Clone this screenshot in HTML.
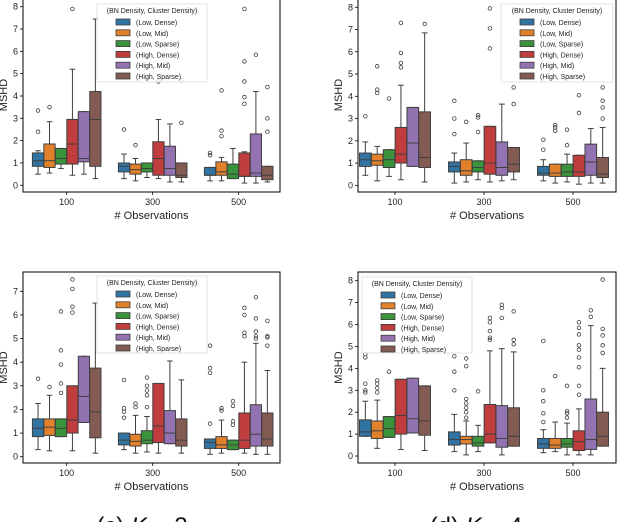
<!DOCTYPE html>
<html><head><meta charset="utf-8"><style>
body{margin:0;background:#fff;}
svg text{font-family:"Liberation Sans",sans-serif;}
</style></head><body>
<svg id="fig" width="618" height="522" xmlns="http://www.w3.org/2000/svg">
<rect width="618" height="522" fill="#fff"/>
</svg>
<script>
const categories=["100","300","500"];
const hues=["(Low, Dense)","(Low, Mid)","(Low, Sparse)","(High, Dense)","(High, Mid)","(High, Sparse)"];
const colors=["#3274a1","#e1812c","#3a923a","#c03d3e","#9372b2","#845b53"];
// each box: [whiskerLow, q1, median, q3, whiskerHigh]
const statsA=[
 [[0.5,0.85,1.1,1.45,1.55],[0.55,0.8,1.1,1.85,2.85],[0.75,0.95,1.2,1.65,1.65],[0.45,0.95,1.85,2.95,5.2],[0.5,1.05,1.2,3.3,3.3],[0.3,0.85,2.95,4.2,7.45]],
 [[0.3,0.6,0.85,1.0,1.4],[0.2,0.5,0.7,0.95,1.2],[0.35,0.6,0.75,1.0,1.0],[0.3,0.45,1.2,1.95,2.95],[0.15,0.45,0.75,1.75,2.75],[0.15,0.35,0.45,1.0,1.0]],
 [[0.2,0.45,0.45,0.8,0.8],[0.2,0.45,0.6,1.05,1.25],[0.3,0.3,0.5,0.95,1.65],[0.1,0.4,0.4,1.45,1.5],[0.1,0.4,0.55,2.3,4.2],[0.15,0.25,0.45,0.85,0.85]]];
const outliersA=[
 [[2.4,3.35],[3.5],[],[7.9],[],[]],
 [[2.5],[1.8],[],[4.65],[],[2.8,4.7]],
 [[1.35,1.45],[2.2,2.45,4.25],[],[3.65,3.95,4.65,5.55,7.9],[5.85],[2.4,3.0,4.4]]];
const statsB=[
 [[0.45,0.85,1.15,1.45,1.95],[0.2,0.9,1.1,1.4,1.75],[0.4,0.8,1.15,1.6,1.6],[0.25,1.0,1.4,2.6,4.5],[0.85,0.85,1.9,3.5,3.5],[0.15,0.8,1.25,3.3,6.85]],
 [[0.1,0.6,0.85,1.05,1.45],[0.15,0.45,0.65,1.15,1.9],[0.25,0.6,0.8,1.1,1.1],[0.15,0.5,1.0,2.65,2.65],[0.2,0.45,0.8,1.95,3.65],[0.25,0.6,0.95,1.7,1.7]],
 [[0.2,0.45,0.55,0.85,1.15],[0.1,0.4,0.55,0.95,0.95],[0.15,0.4,0.6,0.95,1.4],[0.05,0.4,0.6,1.35,1.35],[0.1,0.45,1.05,1.85,2.55],[0.1,0.35,0.5,1.25,2.6]]];
const outliersB=[
 [[3.1],[4.15,4.3,5.35],[3.9],[5.3,5.5,5.95,7.3],[],[7.25]],
 [[2.3,3.0,3.8],[2.85],[2.4,3.05,3.15],[6.15,7.05,7.95],[],[3.65,4.4]],
 [[1.6,2.05],[2.45,2.6,2.7],[1.8,2.5],[3.25,4.05],[],[3.0,3.5,3.8,4.4]]];
const statsC=[
 [[0.3,0.85,1.2,1.6,2.25],[0.25,0.9,1.25,1.6,2.6],[0.85,0.85,1.2,1.6,1.6],[0.25,1.0,1.55,3.0,3.0],[1.45,1.45,2.55,4.25,4.25],[0.15,0.8,1.9,3.75,6.5]],
 [[0.3,0.5,0.7,1.0,1.0],[0.15,0.45,0.65,0.95,1.75],[0.2,0.55,0.7,1.1,1.7],[0.15,0.6,1.3,3.1,3.1],[0.55,0.55,1.0,1.95,4.05],[0.15,0.45,0.7,1.6,3.25]],
 [[0.1,0.35,0.6,0.75,0.75],[0.15,0.35,0.5,0.85,1.55],[0.3,0.3,0.5,0.7,0.7],[0.15,0.35,0.7,1.85,4.0],[0.1,0.45,0.95,2.2,4.8],[0.1,0.45,0.75,1.85,3.65]]];
const outliersC=[
 [[3.3],[2.95],[2.7,3.1,3.9,4.5,6.15],[6.1,6.35,7.1,7.5],[],[]],
 [[1.65,1.9,2.05,3.25],[2.1,2.25],[2.1,2.6,2.8,3.0,3.35],[],[],[]],
 [[1.4,3.55,3.75,4.7],[1.95,2.05],[1.35,1.5,2.15,2.35],[5.1,5.25,6.0,6.3],[5.0,5.1,5.3,5.85,6.75],[4.7,5.05,5.1,5.75]]];
const statsD=[
 [[0.9,0.9,1.1,1.65,2.5],[0.35,0.8,1.15,1.6,2.55],[0.85,0.85,1.25,1.8,1.8],[0.3,1.0,1.85,3.5,3.5],[1.05,1.05,1.7,3.55,3.55],[0.25,0.95,1.6,3.2,3.2]],
 [[0.2,0.5,0.75,1.1,1.9],[0.05,0.55,0.75,0.9,1.6],[0.2,0.45,0.6,0.9,1.4],[0.6,0.6,1.0,2.35,4.8],[0.05,0.4,0.8,2.3,4.9],[0.45,0.45,0.9,2.2,4.75]],
 [[0.15,0.35,0.55,0.8,1.2],[0.2,0.35,0.5,0.8,1.55],[0.05,0.4,0.55,0.8,1.5],[0.05,0.25,0.65,1.15,2.15],[0.05,0.3,0.75,2.6,5.95],[0.45,0.45,0.9,2.0,4.0]]];
const outliersD=[
 [[2.9,3.0,3.3,4.5,4.65],[2.9,3.1,3.3,3.45],[3.85],[],[],[]],
 [[3.0,3.85,4.55],[1.75,2.0,2.2,2.4,2.6,4.1,4.45],[2.95],[5.3,5.4,5.7,6.1,6.3],[6.3,6.75,6.9],[5.1,5.3,6.6]],
 [[1.55,1.95,2.5,3.0,5.25],[3.65],[1.75,1.95,2.05,3.2],[2.8,3.2,4.05,4.5,4.85,5.05,5.55,5.85,6.1],[6.35,6.65],[4.7,5.05,5.5,5.8,8.05]]];
const yTicksA=[0,1,2,3,4,5,6,7,8], yTicksC=[0,1,2,3,4,5,6,7];

const NS="http://www.w3.org/2000/svg";
const fig=document.getElementById('fig');
function mk(tag,attrs,parent){const e=document.createElementNS(NS,tag);for(const k in attrs)e.setAttribute(k,attrs[k]);(parent||fig).appendChild(e);return e;}

const panels=[
 {id:'a',stats:statsA,out:outliersA,ticks:yTicksA,L:23,R:280,T:-2,B:192,y0:185.3,yTop:6.7,yTopV:8,c0:66.7,step:86,leg:[97,4,110,78],capA:'(a) ',capB:'K',capC:' = 1',capX:142,capY:260},
 {id:'b',stats:statsB,out:outliersB,ticks:yTicksA,L:358,R:616,T:-2,B:192,y0:185.3,yTop:7.3,yTopV:8,c0:395,step:89,leg:[501,4,112,78],capA:'(b) ',capB:'K',capC:' = 2',capX:476,capY:260},
 {id:'c',stats:statsC,out:outliersC,ticks:yTicksC,L:23,R:280,T:272,B:463,y0:456.7,yTop:291.3,yTopV:7,c0:66.7,step:86,leg:[97,276,110,77],capA:'(c) ',capB:'K',capC:' = 3',capX:142,capY:534},
 {id:'d',stats:statsD,out:outliersD,ticks:yTicksA,L:358,R:616,T:272,B:463,y0:456,yTop:280.7,yTopV:8,c0:395,step:89,leg:[362,277,110,76],capA:'(d) ',capB:'K',capC:' = 4',capX:476,capY:534}
];
const clip=mk('clipPath',{id:'capclip'});mk('rect',{x:0,y:0,width:618,height:242},clip);

panels.forEach(p=>{
 const g=mk('g',{});
 
 
 const ys=v=>p.y0-(p.y0-p.yTop)*v/p.yTopV;
 const bw=p.step*0.8/6;
 const xs=(ci,hi)=>p.c0+ci*p.step-p.step*0.4+bw*(hi+0.5);
 p.ticks.forEach(t=>{
  const y=ys(t);
  mk('line',{x1:p.L-3,x2:p.L,y1:y,y2:y,stroke:'#000','stroke-width':0.8},g);
  const tx=mk('text',{x:p.L-5,y:y+3,'font-size':9,'text-anchor':'end',fill:'#222'},g);
  tx.textContent=t;
  
  
 });
 categories.forEach((c,ci)=>{
  const x=p.c0+ci*p.step;
  mk('line',{x1:x,x2:x,y1:p.B,y2:p.B+3,stroke:'#000','stroke-width':0.8},g);
  const tx=mk('text',{x:x,y:p.B+13,'font-size':9,'text-anchor':'middle',fill:'#222'},g);
  tx.textContent=c;
  
  
  p.stats[ci].forEach((s,hi)=>{
   const cx=xs(ci,hi),w=bw*0.98;
   const bg=mk('g',{},g);
   
   
   mk('line',{x1:cx,x2:cx,y1:ys(s[0]),y2:ys(s[1]),stroke:'#3f3f3f','stroke-width':1},bg);
   mk('line',{x1:cx,x2:cx,y1:ys(s[3]),y2:ys(s[4]),stroke:'#3f3f3f','stroke-width':1},bg);
   mk('line',{x1:cx-w/4,x2:cx+w/4,y1:ys(s[0]),y2:ys(s[0]),stroke:'#3f3f3f','stroke-width':1},bg);
   mk('line',{x1:cx-w/4,x2:cx+w/4,y1:ys(s[4]),y2:ys(s[4]),stroke:'#3f3f3f','stroke-width':1},bg);
   mk('rect',{x:cx-w/2,y:ys(s[3]),width:w,height:Math.max(0.5,ys(s[1])-ys(s[3])),fill:colors[hi],stroke:'#3f3f3f','stroke-width':1},bg);
   mk('line',{x1:cx-w/2,x2:cx+w/2,y1:ys(s[2]),y2:ys(s[2]),stroke:'#3f3f3f','stroke-width':1},bg);
   p.out[ci][hi].forEach(o=>{
    mk('circle',{cx:cx,cy:ys(o),r:1.8,fill:'none',stroke:'#3f3f3f','stroke-width':0.8},bg);
   });
  });
 });
 const fr=mk('rect',{x:p.L,y:p.T,width:p.R-p.L,height:p.B-p.T,fill:'none',stroke:'#000','stroke-width':1},g);
 
 
 const xl=mk('text',{x:(p.L+p.R)/2,y:p.B+27,'font-size':11,'text-anchor':'middle',fill:'#222'},g);
 xl.textContent='# Observations';
 
 
 const ym=(p.T+p.B)/2, yx=p.L-16;
 const yl=mk('text',{x:yx,y:ym,'font-size':11,'text-anchor':'middle',fill:'#222',transform:`rotate(-90 ${yx} ${ym})`},g);
 yl.textContent='MSHD';
 
 
 const [lx,ly,lw,lh]=p.leg;
 const lg=mk('g',{},g);
 
 
 mk('rect',{x:lx,y:ly,width:lw,height:lh,fill:'#fff','fill-opacity':0.8,stroke:'#ddd','stroke-width':0.8},lg);
 const lt=mk('text',{x:lx+lw/2,y:ly+9,'font-size':7,'text-anchor':'middle',fill:'#222'},lg);
 lt.textContent='(BN Density, Cluster Density)';
 
 
 hues.forEach((h,hi)=>{
  const ey=ly+15+hi*10.8;
  const e=mk('g',{},lg);
  
  
  mk('rect',{x:lx+19,y:ey,width:14,height:6,fill:colors[hi],stroke:'#3f3f3f','stroke-width':0.8},e);
  const t=mk('text',{x:lx+39,y:ey+6,'font-size':7,fill:'#222'},e);
  t.textContent=h;
 });
 const cp=mk('text',{x:p.capX,y:p.capY,'font-size':24,'text-anchor':'middle',fill:'#111','font-family':'Liberation Serif, serif'},fig);
 if(p.id==='a'||p.id==='b')cp.setAttribute('clip-path','url(#capclip)');
 const s1=mk('tspan',{},cp);s1.textContent=p.capA;
 const s2=mk('tspan',{'font-style':'italic'},cp);s2.textContent=p.capB;
 const s3=mk('tspan',{},cp);s3.textContent=p.capC;
 
 
});
</script>
</body></html>
